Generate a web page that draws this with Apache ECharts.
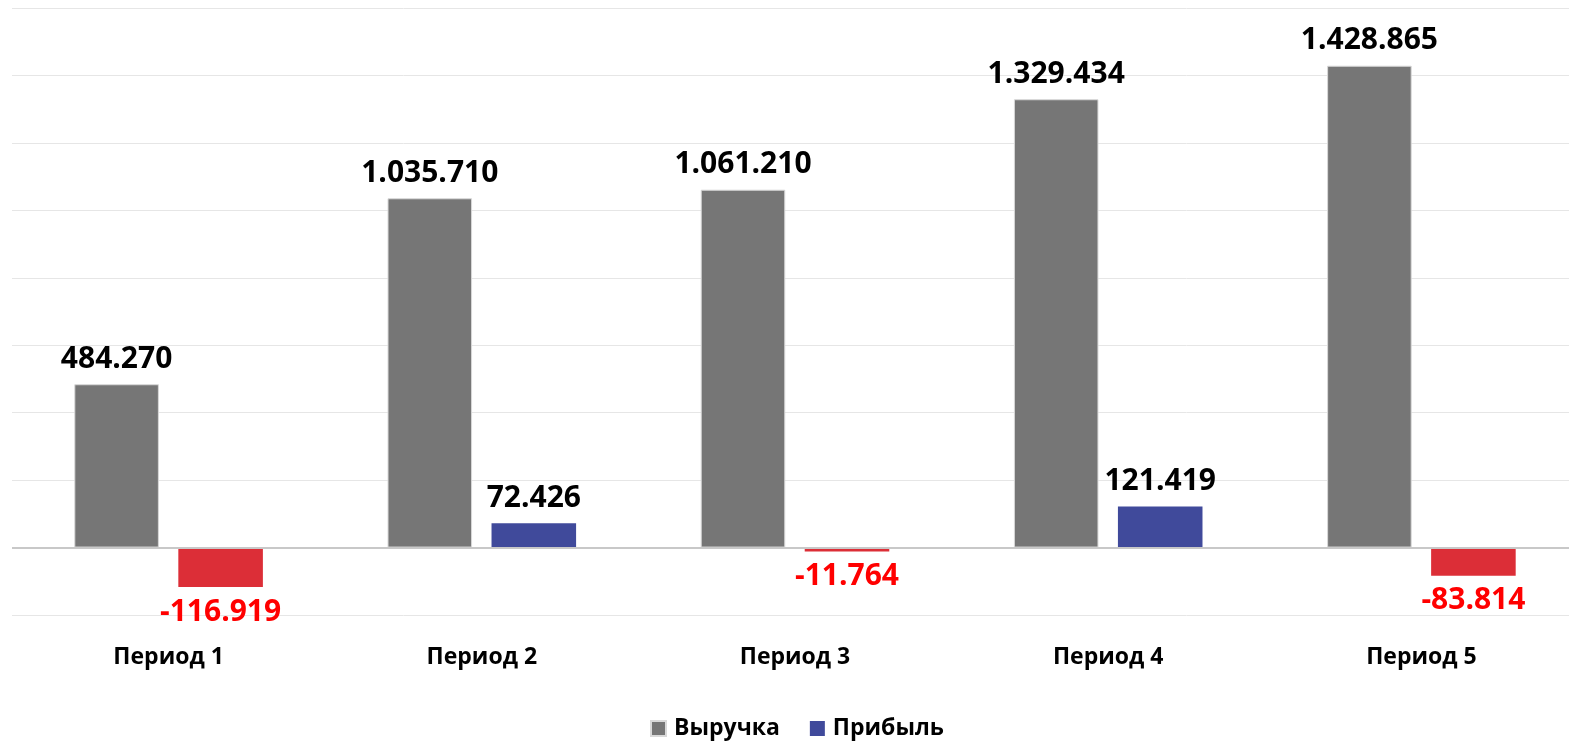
<!DOCTYPE html>
<html><head><meta charset="utf-8">
<script src="https://cdn.jsdelivr.net/npm/echarts@6/dist/echarts.min.js"></script>
<style>html,body{margin:0;padding:0;background:#fff;overflow:hidden}#c{width:1580px;height:741px}</style>
</head><body><div id="c"></div>
<script>
const categories = ['Период 1', 'Период 2', 'Период 3', 'Период 4', 'Период 5'];
const revenue = [484270, 1035710, 1061210, 1329434, 1428865];
const profit = [-116919, 72426, -11764, 121419, -83814];
const seriesNames = ['Выручка', 'Прибыль'];

const FONT = '"Open Sans"';
function fmt(v) {
  const s = Math.abs(v).toString().replace(/\B(?=(\d{3})+(?!\d))/g, '.');
  return (v < 0 ? '-' : '') + s;
}
const chart = echarts.init(document.getElementById('c'));
chart.setOption({
  animation: false,
  grid: { left: 12, width: 1566, top: 8, bottom: 126, containLabel: false },
  legend: {
    bottom: -4, left: 645, itemWidth: 15, itemHeight: 15, itemGap: 30,
    icon: 'rect',
    textStyle: { fontFamily: FONT, fontWeight: 'bold', fontSize: 23, color: '#000', padding: [0, 0, 0, 3] },
    data: [{ name: seriesNames[0], itemStyle: { color: '#767676' } }, { name: seriesNames[1], itemStyle: { color: '#404a9b' } }]
  },
  xAxis: {
    type: 'category', data: categories,
    axisLine: { show: false, onZero: false }, axisTick: { show: false },
    axisLabel: { margin: 31, fontFamily: FONT, fontWeight: 'bold', fontSize: 23, color: '#000' }
  },
  yAxis: {
    type: 'value', min: -200000, max: 1600000, interval: 200000,
    axisLabel: { show: false }, axisLine: { show: false }, axisTick: { show: false },
    splitLine: { lineStyle: { color: '#e6e6e6', width: 1 } }
  },
  series: [
    {
      name: seriesNames[0], type: 'bar', data: revenue, barWidth: '27%', barGap: '23%',
      itemStyle: { color: '#767676', borderColor: '#d9d9d9', borderWidth: 1 },
      label: { show: true, position: 'top', distance: 10, formatter: p => fmt(p.value),
        fontFamily: FONT, fontWeight: 'bold', fontSize: 30, color: '#000' },
      markLine: { silent: true, symbol: 'none', label: { show: false },
        lineStyle: { color: '#c8c8c8', width: 2, type: 'solid' }, data: [{ yAxis: 0 }] }
    },
    {
      name: seriesNames[1], type: 'bar', barWidth: '27%',
      data: profit.map(v => ({
        value: v,
        itemStyle: { color: v < 0 ? '#dc2e37' : '#404a9b' },
        label: { position: v < 0 ? 'bottom' : 'top', color: v < 0 ? '#ff0000' : '#000' }
      })),
      label: { show: true, distance: 10, formatter: p => fmt(p.value),
        fontFamily: FONT, fontWeight: 'bold', fontSize: 30 }
    }
  ]
});
</script></body></html>
